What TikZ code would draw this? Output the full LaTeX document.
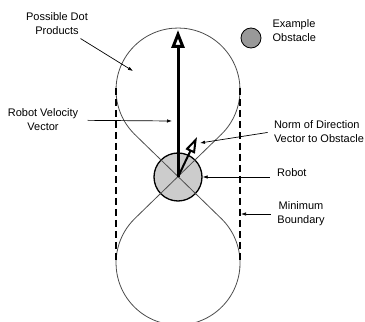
\documentclass[tikz,border=0pt]{standalone}
\usepackage{fontspec}
\setmainfont{Liberation Sans}
\usetikzlibrary{positioning,arrows.meta}

\begin{document}
\begin{tikzpicture}[x=1pt, y=1pt,
        note/.style={font=\fontsize{11}{14}\selectfont, align=center, inner sep=3.3pt},
        pointer/.style={-{Latex[length=5pt,width=3.5pt]}, line width=0.7pt},
        lobe/.style={draw=black!70, line width=0.8pt},
        boundary/.style={line width=1.6pt, dash pattern=on 7pt off 4pt},
        robotdisk/.style={circle, draw, fill=black!20, line width=1.3pt, minimum size=48pt, inner sep=0pt},
        obstacledisk/.style={circle, draw, fill=black!40, line width=0.8pt, minimum size=20pt, inner sep=0pt},
        bigvector/.style={line width=3pt, -{Triangle[open,length=18pt,width=13pt]}},
        smallvector/.style={line width=2pt, -{Triangle[open,length=16pt,width=10pt]}}
    ]
        \useasboundingbox (0,0) rectangle (365,322);

        \node[robotdisk] (robot) at (178,145) {};
        \node[obstacledisk] (obstacle) at (251,284) {};

        % figure eight of possible dot products
        \draw[lobe] (134.5,187.8) -- (221,103.7) arc[start angle=46.13, end angle=-226.13, radius=62]
            -- (221.5,187.8) arc[start angle=-45.45, end angle=225.45, radius=62] -- cycle;

        \coordinate (lt) at (116,234);
        \coordinate (lb) at (116,59);
        \coordinate (rt) at (240,234);
        \coordinate (rb) at (240,59);
        \draw[boundary] (lt) -- (lb);
        \draw[boundary] (rt) -- (rb);

        \coordinate (vtip) at (178,292);
        \coordinate (ntip) at (197,185);
        \draw[bigvector] (robot.center) -- (vtip);
        \draw[smallvector] (robot.center) -- (ntip);

        \node[note] (pdp) at (57,298) {Possible Dot\\Products};
        \node[note] (rvv) at (43,202) {Robot Velocity\\Vector};
        \node[note, align=left, right=7.7pt of obstacle, yshift=7pt] (eob) {Example\\Obstacle};
        \node[note, align=left, anchor=west] (nodv) at (270.5,190) {Norm of Direction\\Vector to Obstacle};
        \node[note, anchor=west] (rob) at (273.7,149) {Robot};
        \node[note] (mbd) at (301,108) {Minimum\\Boundary};

        \coordinate (dots) at (133,251);
        \coordinate (vel) at (172,201);
        \coordinate (dir) at (200,179);
        \coordinate (wall) at (241,108);
        \draw[pointer] (pdp) -- (dots);
        \draw[pointer, shorten <=6pt] (rvv) -- (vel);
        \draw[pointer, shorten <=3pt] (nodv.west) -- (dir);
        \draw[pointer, shorten <=4pt] (rob.west |- robot) -- (robot.east);
        \draw[pointer, shorten <=3pt] (mbd) -- (wall);
    \end{tikzpicture}
\end{document}
